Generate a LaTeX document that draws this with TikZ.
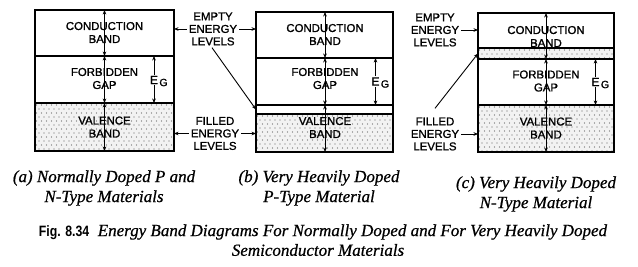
\documentclass[tikz,border=0pt]{standalone}
\usepackage{fontspec}
\setmainfont{Liberation Serif}[FakeBold=0.7]
\newfontfamily\labfont{Liberation Sans}[FakeBold=1.2]
\newfontfamily\figfont{Liberation Sans}[FakeStretch=0.82]
\usetikzlibrary{arrows.meta}
\colorlet{stipbg}{black!5}
\colorlet{stipdot}{black!60}
\newcommand\stipple[4]{%
  \fill[stipbg] (#1,#2) rectangle (#3,#4);
  \begin{scope}
    \clip (#1,#2) rectangle (#3,#4);
    \foreach \i in {0,...,28}{
      \foreach \j in {0,...,12}{
        \fill[stipdot] ({#1+1.5+\i*5+mod(\j,2)*2.5},{#2+2+\j*4}) circle (0.55pt);
      }
    }
  \end{scope}}
\tikzset{
  boxline/.style={line width=1.1pt},
  dbl/.style={{Stealth[length=4.5pt,width=3.6pt]}-{Stealth[length=4.5pt,width=3.6pt]}, line width=0.8pt},
  sarr/.style={-{Stealth[length=4.5pt,width=3.6pt]}, line width=0.9pt},
  lab/.style={font=\labfont\fontsize{11.4}{13}\selectfont, align=center, inner sep=0pt},
  sidelab/.style={font=\labfont\fontsize{11.4}{12.5}\selectfont, align=center, inner sep=2pt},
  elab/.style={font=\labfont\fontsize{12}{12}\selectfont, inner sep=1pt},
  glab/.style={font=\labfont\fontsize{10.5}{10}\selectfont, inner sep=0pt, anchor=west},
  captext/.style={font=\itshape\fontsize{17}{20}\selectfont, align=center, inner sep=0pt},
}
\begin{document}
\begin{tikzpicture}[x=1pt,y=-1pt]
\useasboundingbox (0,0) rectangle (638,267);
\fill[white] (0,0) rectangle (638,267);

% ---------- shading ----------
\stipple{35}{103}{174}{151}
\stipple{256}{114}{393}{152}
\stipple{478}{48}{614}{59}
\stipple{478}{105}{614}{152}

% ---------- box (a) ----------
\draw[boxline] (35,10) rectangle (174,151);
\draw[boxline] (35,56) -- (174,56);
\draw[boxline] (35,103) -- (174,103);
\coordinate (a0) at (104.5,10);
\coordinate (a1) at (104.5,56);
\coordinate (a2) at (104.5,103);
\coordinate (a3) at (104.5,151);
\draw[dbl] (a0) -- (a1);
\draw[dbl] (a1) -- (a2);
\draw[dbl] (a2) -- (a3);
\node[lab] (acb) at (104.5,32.5) {CONDUCTION\\BAND};
\node[lab] (afg) at (104.5,78.5) {FORBIDDEN\\GAP};
\node[lab] (avb) at (104.5,127) {VALENCE\\BAND};
\coordinate (aeg1) at (154,56);
\coordinate (aeg2) at (154,103);
\node[elab] (ae) at (154,80) {E};
\node[glab] at ([yshift=-2.5pt]ae.east) {G};
\draw[sarr] (ae.north) -- (aeg1);
\draw[sarr] (ae.south) -- (aeg2);

% ---------- box (b) ----------
\draw[boxline] (256,12) rectangle (393,152);
\draw[boxline] (256,58) -- (393,58);
\draw[boxline] (256,105) -- (393,105);
\draw[boxline] (256,114) -- (393,114);
\coordinate (b0) at (325,12);
\coordinate (b1) at (325,58);
\coordinate (b2) at (325,105);
\coordinate (b3) at (325,152);
\draw[dbl] (b0) -- (b1);
\draw[dbl] (b1) -- (b2);
\draw[dbl] (b2) -- (b3);
\node[lab] (bcb) at (325,34.5) {CONDUCTION\\BAND};
\node[lab] (bfg) at (325,78.5) {FORBIDDEN\\GAP};
\node[lab] (bvb) at (325,127.5) {VALENCE\\BAND};
\coordinate (beg1) at (375.5,58);
\coordinate (beg2) at (375.5,105);
\node[elab] (be) at (375.5,81.5) {E};
\node[glab] at ([yshift=-2.5pt]be.east) {G};
\draw[sarr] (be.north) -- (beg1);
\draw[sarr] (be.south) -- (beg2);

% ---------- box (c) ----------
\draw[boxline] (478,13) rectangle (614,152);
\draw[boxline] (478,48) -- (614,48);
\draw[boxline] (478,59) -- (614,59);
\draw[boxline] (478,105) -- (614,105);
\coordinate (c0) at (546,13);
\coordinate (c1) at (546,59);
\coordinate (c2) at (546,105);
\coordinate (c3) at (546,152);
\draw[dbl] (c0) -- (c1);
\draw[dbl] (c1) -- (c2);
\draw[dbl] (c2) -- (c3);
\node[lab] (ccb) at (546,36.5) {CONDUCTION\\BAND};
\node[lab] (cfg) at (546,81) {FORBIDDEN\\GAP};
\node[lab] (cvb) at (546,128) {VALENCE\\BAND};
\coordinate (ceg1) at (595.5,59);
\coordinate (ceg2) at (595.5,105);
\node[elab] (ce) at (595.5,82) {E};
\node[glab] at ([yshift=-2.5pt]ce.east) {G};
\draw[sarr] (ce.north) -- (ceg1);
\draw[sarr] (ce.south) -- (ceg2);

% ---------- side labels ----------
\node[sidelab] (emp1) at (213,29) {EMPTY\\ENERGY\\LEVELS};
\coordinate (emp1a) at (174,29);
\coordinate (emp1b) at (256,29);
\coordinate (emp1c) at (256,109.5);
\draw[sarr] (emp1.west) -- (emp1a);
\draw[sarr] (emp1.east) -- (emp1b);
\draw[sarr] ([xshift=-1pt]emp1.south) -- (emp1c);

\node[sidelab] (fil1) at (215,133.5) {FILLED\\ENERGY\\LEVELS};
\coordinate (fil1a) at (174,133.5);
\coordinate (fil1b) at (256,133.5);
\draw[sarr] (fil1.west) -- (fil1a);
\draw[sarr] (fil1.east) -- (fil1b);

\node[sidelab] (emp2) at (435,30) {EMPTY\\ENERGY\\LEVELS};
\coordinate (emp2a) at (478,30);
\draw[sarr] (emp2.east) -- (emp2a);

\node[sidelab] (fil2) at (435,134) {FILLED\\ENERGY\\LEVELS};
\coordinate (fil2a) at (478,134);
\coordinate (fil2c) at (478,53.5);
\draw[sarr] (fil2.east) -- (fil2a);
\draw[sarr] ([yshift=7pt]fil2.north) -- (fil2c);

% ---------- captions ----------
\node[captext] (capa) at (104,188) {(a) Normally Doped P and\\N-Type Materials};
\node[captext] (capb) at (319,188) {(b) Very Heavily Doped\\P-Type Material};
\node[captext] (capc) at (536,194) {(c) Very Heavily Doped\\N-Type Material};
\node[captext] (fig1) at (323,232) {{\figfont\bfseries\upshape\fontsize{15}{15}\selectfont Fig. 8.34}\enspace Energy Band Diagrams For Normally Doped and For Very Heavily Doped};
\node[captext] (fig2) at (318,250) {Semiconductor Materials};
\end{tikzpicture}
\end{document}
